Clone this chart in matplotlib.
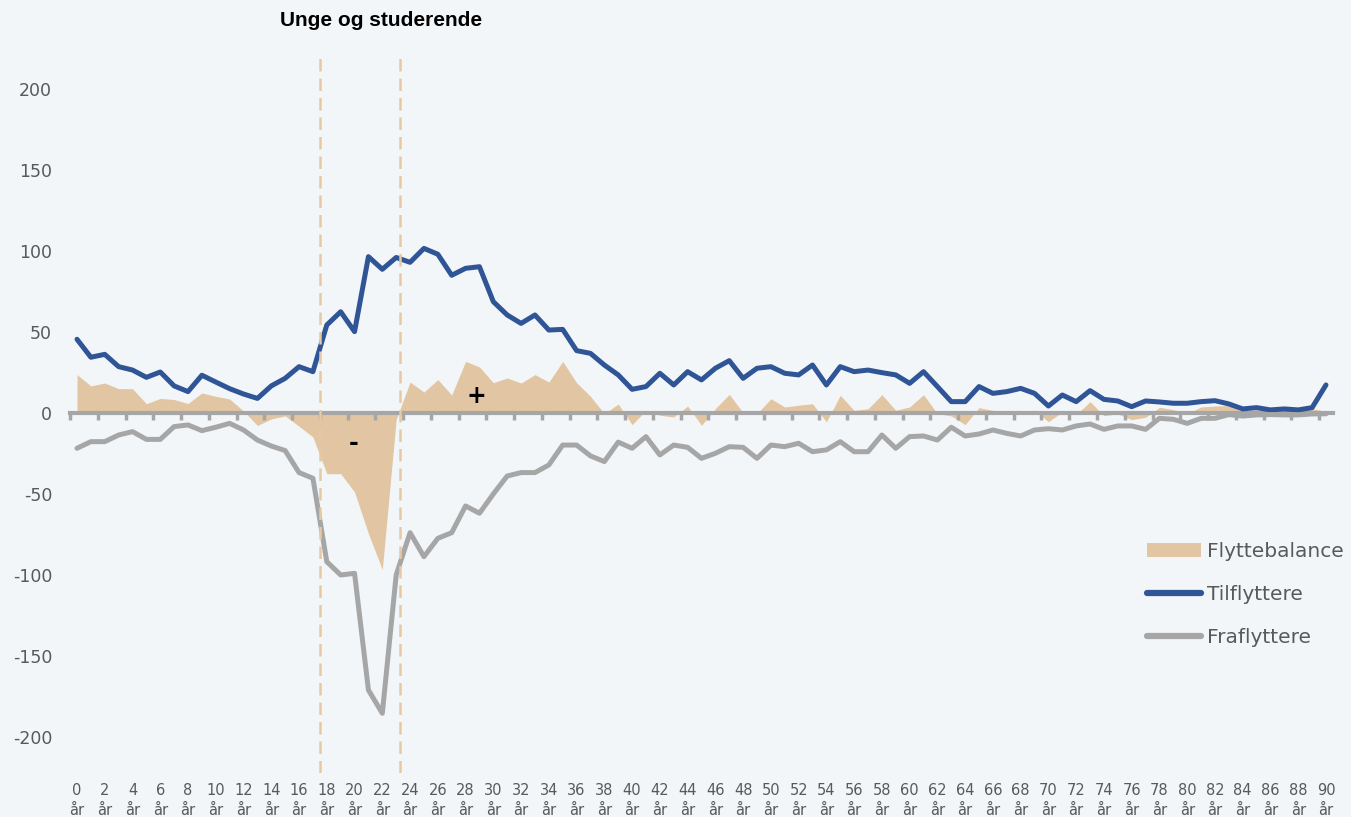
import numpy as np
import matplotlib
matplotlib.use("Agg")
from matplotlib import pyplot as plt
from matplotlib.patches import Patch
from matplotlib.lines import Line2D
from matplotlib import transforms

plt.rcParams['axes.unicode_minus'] = False

# Data (ages 0..90)
ages = np.arange(0, 91)

tilflyttere = [45.5, 34.4, 36.2, 28.6, 26.5, 22.0, 25.3, 16.7, 13.2, 23.3,
               19.1, 15.0, 11.7, 9.0, 16.7, 21.4, 28.6, 25.5, 54.3, 62.5,
               50.2, 96.5, 88.7, 96.0, 93.0, 101.6, 98.0, 85.0, 89.3, 90.3,
               68.7, 60.5, 55.3, 60.5, 51.2, 51.6, 38.5, 36.8, 29.6, 23.5,
               14.6, 16.3, 24.5, 17.3, 25.5, 20.4, 27.6, 32.3, 21.4, 27.6,
               28.6, 24.5, 23.5, 29.6, 17.3, 28.6, 25.5, 26.5, 24.9, 23.5,
               18.3, 25.5, 16.3, 7.0, 7.0, 16.3, 12.1, 13.2, 15.2, 12.1,
               4.3, 11.1, 7.0, 13.8, 8.4, 7.4, 3.9, 7.4, 6.8, 6.0,
               6.0, 7.0, 7.6, 5.6, 2.5, 3.3, 1.9, 2.5, 1.9, 3.3,
               17.3]

fraflyttere = [-21.8, -17.7, -17.7, -13.6, -11.5, -16.3, -16.3, -8.4, -7.4, -10.9,
               -8.8, -6.4, -10.5, -16.7, -20.4, -23.2, -36.8, -40.3, -91.8, -100.0,
               -99.0, -171.0, -185.4, -100.0, -73.9, -88.7, -77.4, -73.9, -57.4, -61.9,
               -50.0, -38.9, -36.8, -36.8, -32.1, -19.8, -19.8, -26.5, -30.0, -18.0,
               -21.8, -14.6, -25.9, -19.8, -21.2, -28.0, -24.9, -20.8, -21.2, -28.0,
               -19.8, -20.8, -18.7, -23.9, -22.8, -17.7, -23.9, -23.9, -13.6, -21.8,
               -14.6, -14.2, -16.7, -8.8, -14.2, -13.0, -10.5, -12.6, -14.2, -10.5,
               -9.7, -10.5, -8.0, -6.8, -10.1, -8.0, -8.0, -10.1, -3.3, -3.9,
               -6.4, -3.3, -3.3, -1.0, -1.9, -1.2, -1.0, -1.2, -1.2, -0.6,
               -0.5]

flyttebalance = [23.7, 16.7, 18.5, 15.0, 15.0, 5.7, 9.0, 8.3, 5.8, 12.4,
                 10.3, 8.6, 1.2, -7.7, -3.7, -1.8, -8.2, -14.8, -37.5, -37.5,
                 -48.8, -74.5, -96.7, -4.0, 19.1, 12.9, 20.6, 11.1, 31.9, 28.4,
                 18.7, 21.6, 18.5, 23.7, 19.1, 31.8, 18.7, 10.3, -0.4, 5.5,
                 -7.2, 1.7, -1.4, -2.5, 4.3, -7.6, 2.7, 11.5, 0.2, -0.4,
                 8.8, 3.7, 4.8, 5.7, -5.5, 10.9, 1.6, 2.6, 11.3, 1.7,
                 3.7, 11.3, -0.4, -1.8, -7.2, 3.3, 1.6, 0.6, 1.0, 1.6,
                 -5.4, 0.6, -1.0, 7.0, -1.7, -0.6, -4.1, -2.7, 3.5, 2.1,
                 -0.4, 3.7, 4.3, 4.6, 0.6, 2.1, 0.9, 1.3, 0.7, 2.7,
                 1.0]

# age band marked as "Unge og studerende"
band_start = 17.5
band_end = 23.3

bg = '#f2f6f9'
blue = '#2f5597'
grey = '#a6a6a6'
tan = '#e2c6a3'
txt = '#595959'

fig = plt.figure(figsize=(13.51, 8.17), dpi=100, facecolor=bg)
ax = fig.add_axes([0.05186, 0.05435, 0.93475, 0.87637], facecolor=bg)

ax.fill_between(ages, flyttebalance, 0, color=tan, lw=0, zorder=1)
ax.plot(ages, tilflyttere, color=blue, lw=3.6, zorder=3, solid_capstyle='round')
ax.plot(ages, fraflyttere, color=grey, lw=3.6, zorder=3, solid_capstyle='round')

for xv in (band_start, band_end):
    ax.axvline(xv, color='#e6c9a3', lw=1.8, dashes=(5, 2.8), zorder=4)

ax.set_xlim(-0.5, 90.5)
ax.set_ylim(-222, 220)

# zero axis with tick marks between categories
for s in ['top', 'right', 'left']:
    ax.spines[s].set_visible(False)
ax.spines['bottom'].set_position(('data', 0))
ax.spines['bottom'].set_color(grey)
ax.spines['bottom'].set_linewidth(3)
ax.set_xticks(np.arange(-0.5, 91, 2))
ax.set_xticklabels([])
ax.tick_params(axis='x', length=5, width=2.5, color=grey, direction='out')

ax.set_yticks(np.arange(-200, 201, 50))
ax.tick_params(axis='y', length=0, pad=13, labelsize=12.5, labelcolor=txt)

trans = transforms.blended_transform_factory(ax.transData, ax.transAxes)
for a in ages[::2]:
    ax.text(a, -0.015, f"{a}\når", transform=trans, ha='center', va='top',
            fontsize=10.5, color=txt, linespacing=1.35, multialignment='center')

ax.text(28.8, 10.5, '+', fontsize=17, fontweight='bold', ha='center', va='center', zorder=5)
ax.text(19.9, -18.5, '-', fontsize=17, fontweight='bold', ha='center', va='center', zorder=5)

fig.text(381 / 1351, 1 - 20 / 817, 'Unge og studerende', ha='center', va='center',
         fontsize=15, fontweight='bold', family='Liberation Sans')

handles = [Patch(facecolor=tan, edgecolor='none'),
           Line2D([0], [0], color=blue, lw=4.5, solid_capstyle='round'),
           Line2D([0], [0], color=grey, lw=4.5, solid_capstyle='round')]
fig.legend(handles, ['Flyttebalance', 'Tilflyttere', 'Fraflyttere'],
           loc='upper left', bbox_to_anchor=(1147 / 1351, 1 - 542 / 817),
           frameon=False, fontsize=14.5, labelcolor=txt, handlelength=2.7,
           handletextpad=0.28, labelspacing=1.2, borderpad=0, borderaxespad=0)

fig.savefig('out.png', dpi=100, facecolor=bg)
